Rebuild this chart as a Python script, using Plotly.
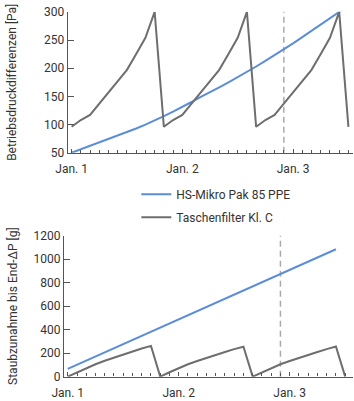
import plotly.graph_objects as go

# ---------------- data ----------------
hours = list(range(0, 62, 2))  # Jan. 1 00:00 ... Jan. 3 12:00, every 2 h

top_blue = [50, 56, 62, 68, 74, 80, 86, 93, 100, 107, 115, 123, 131, 140, 149, 157,
            166, 175, 184, 193, 203, 213, 223, 234, 244, 255, 266, 278, 289, 300, 311]
top_gray = [96, 108, 117, 137, 157, 177, 197, 225, 254, 300,
            96, 108, 117, 137, 157, 177, 197, 225, 254, 300,
            96, 108, 117, 137, 157, 177, 197, 225, 254, 300,
            96]

bot_blue_hours = [0, 12, 24, 36, 46, 58]
bot_blue = [66, 278, 490, 700, 872, 1085]
bot_gray = [0, 37, 72, 105, 135, 162, 190, 214, 240, 262,
            0, 37, 72, 105, 133, 160, 186, 210, 234, 255,
            0, 37, 72, 105, 133, 160, 186, 210, 234, 257,
            0]

series_names = ["HS-Mikro Pak 85 PPE", "Taschenfilter Kl. C"]
day_ticks = [0, 24, 48]
day_labels = ["Jan. 1", "Jan. 2", "Jan. 3"]
marker_hour = 46
top_yticks = [50, 100, 150, 200, 250, 300]
bot_yticks = [0, 200, 400, 600, 800, 1000, 1200]
y_titles = ["Betriebsdruckdifferenzen [Pa]", "Staubzunahme bis End-\u0394P [g]"]

BLUE = "#5b8dd8"
GRAY = "#6e6e6e"
AXIS = "#555555"
TEXT = "#333333"
FONT = "Roboto"

W, H = 354, 401

fig = go.Figure()
fig.add_trace(go.Scatter(x=hours, y=top_blue, mode="lines", name=series_names[0],
                         line=dict(color=BLUE, width=2), xaxis="x", yaxis="y",
                         legendgroup="g1"))
fig.add_trace(go.Scatter(x=hours, y=top_gray, mode="lines", name=series_names[1],
                         line=dict(color=GRAY, width=2), xaxis="x", yaxis="y",
                         legendgroup="g2"))
fig.add_trace(go.Scatter(x=bot_blue_hours, y=bot_blue, mode="lines", name=series_names[0],
                         line=dict(color=BLUE, width=2), xaxis="x2", yaxis="y2",
                         showlegend=False))
fig.add_trace(go.Scatter(x=hours, y=bot_gray, mode="lines", name=series_names[1],
                         line=dict(color=GRAY, width=2), xaxis="x2", yaxis="y2",
                         showlegend=False))

xcommon = dict(
    tickmode="array", tickvals=day_ticks, ticktext=day_labels,
    ticks="inside", ticklen=4, tickcolor=AXIS, tickwidth=1,
    minor=dict(tickmode="linear", tick0=0, dtick=2, ticks="inside", ticklen=3,
               tickcolor=AXIS, tickwidth=1, showgrid=False),
    showline=True, linecolor=AXIS, linewidth=1.3, showgrid=False, zeroline=False,
    tickfont=dict(family=FONT, size=12, color=TEXT), fixedrange=True,
    ticklabelstandoff=5,
)
ycommon = dict(
    ticks="inside", ticklen=6, tickcolor=AXIS, tickwidth=1,
    showline=True, linecolor=AXIS, linewidth=1.3, showgrid=False, zeroline=False,
    tickfont=dict(family=FONT, size=12, color=TEXT), fixedrange=True,
    title_font=dict(family=FONT, size=12, color=TEXT),
)

fig.update_layout(
    width=W, height=H,
    margin=dict(l=0, r=0, t=0, b=0),
    paper_bgcolor="white", plot_bgcolor="white",
    xaxis=dict(domain=[57 / W, 353 / W], range=[-0.8, 61.0], anchor="y", **xcommon),
    yaxis=dict(domain=[(H - 151) / H, (H - 5) / H], range=[50, 300], anchor="x",
               tickvals=top_yticks, title_text=y_titles[0], title_standoff=24, **ycommon),
    xaxis2=dict(domain=[53 / W, 353 / W], range=[-0.8, 61.7], anchor="y2", **xcommon),
    yaxis2=dict(domain=[(H - 383) / H, (H - 237) / H], range=[0, 1200], anchor="x2",
                tickvals=bot_yticks, title_text=y_titles[1], title_standoff=13, **ycommon),
    legend=dict(x=128 / W, y=(H - 179) / H, xanchor="left", yanchor="top",
                font=dict(family=FONT, size=12, color=TEXT),
                traceorder="grouped", tracegroupgap=4,
                bgcolor="rgba(0,0,0,0)"),
    showlegend=True,
)

for xr, yr in (("x", "y"), ("x2", "y2")):
    fig.add_shape(type="line", xref=xr, yref=yr + " domain", x0=marker_hour, x1=marker_hour,
                  y0=0, y1=1, line=dict(color="#aaaaaa", width=1.5, dash="6px,4px"),
                  layer="below")

fig.write_html("out.html")
